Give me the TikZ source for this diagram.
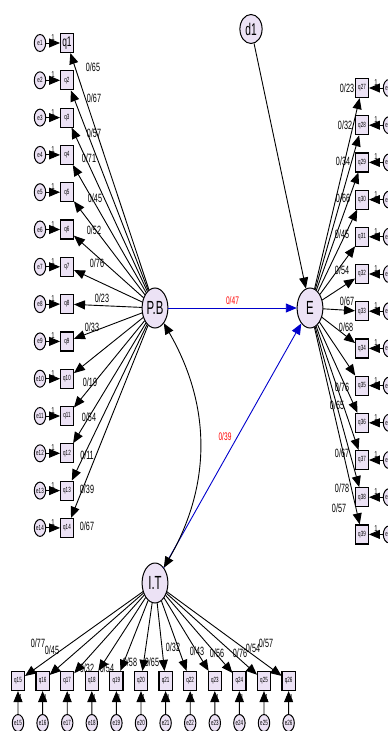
\documentclass[tikz,border=0pt]{standalone}
\usepackage{fontspec}
\setmainfont{Liberation Sans}
\definecolor{LatentFill}{RGB}{236,226,245}
\colorlet{StructPath}{blue!80!black}
\usetikzlibrary{arrows.meta, shapes.geometric}

\begin{document}
\begin{tikzpicture}[x=1pt, y=-1pt, line width=0.9pt,
    latent/.style={ellipse, draw, line width=1pt, fill=LatentFill, inner sep=0pt, xscale=0.6,
      minimum width=43pt, minimum height=40pt, font=\fontsize{19}{19}\selectfont},
    errvar/.style={ellipse, draw, line width=1pt, fill=LatentFill, inner sep=0pt, xscale=0.6,
      minimum width=19pt, minimum height=17pt, font=\fontsize{7.5}{7.5}\selectfont},
    item/.style={rectangle, draw, line width=1.2pt, fill=LatentFill, inner sep=0pt, xscale=0.6,
      minimum width=22pt, minimum height=19pt, font=\fontsize{7.5}{7.5}\selectfont},
    big1/.style={font=\fontsize{14}{14}\selectfont},
    load/.style={inner sep=0pt, xscale=0.6, font=\fontsize{12}{12}\selectfont},
    one/.style={inner sep=0pt, xscale=0.7, font=\fontsize{8.5}{8.5}\selectfont},
    headed/.style={-{Triangle[length=11pt,width=9pt]}},
  ]
\useasboundingbox (0,0) rectangle (388,731);

\node[latent] (PB) at (155,308) {P.B};
\node[latent] (E) at (310,308) {E};
\node[latent] (IT) at (155,583) {I.T};
\node[latent, minimum width=37pt, minimum height=29pt, font=\fontsize{17}{17}\selectfont] (d1) at (251,29) {d1};

\draw[headed] (d1) -- (E);
\draw[headed, StructPath] (PB) -- node[above=3pt, red, load, font=\fontsize{11}{11}\selectfont] (pbe) {0/47} (E);
\draw[headed, StructPath] (IT) -- (E);
\node[load, red, font=\fontsize{11}{11}\selectfont] (ite) at (225,437) {0/39};
\draw[{Triangle[length=11pt,width=9pt]}-{Triangle[length=11pt,width=9pt]}] (PB) to[bend left=30] (IT);

\foreach \i/\lx/\ly/\val in {1/93/67/65, 2/94/98/67, 3/94/133/57, 4/89/158/71, 5/95/198/45,
    6/94/230/52, 7/97/263/76, 8/102/298/23, 9/92/327/33, 10/90/382/19, 11/89/417/54,
    12/87/455/11, 13/87/489/39, 14/87/526/67} {
  \pgfmathsetmacro\yy{43+(\i-1)*37.3}
  \node[errvar] (e\i) at (40,\yy) {e\i};
  \node[item, big\i/.try] (q\i) at (67,\yy) {q\i};
  \draw[headed] (e\i) -- node[one, above=2pt] (o\i) {1} (q\i);
  \draw[headed] (PB) -- (q\i);
  \node[load] (w\i) at (\lx,\ly) {0/\val};
}

\foreach \i/\lx/\ly/\val in {27/347/88/23, 28/345/125/32, 29/343/161/34, 30/343/198/66,
    31/342/234/45, 32/342/270/54, 33/347/301/67, 34/346/327/68, 35/342/387/76,
    36/337/405/65, 37/342/453/67, 38/342/488/78, 39/339/508/57} {
  \pgfmathsetmacro\yy{88+(\i-27)*37.2}
  \node[item] (q\i) at (362,\yy) {q\i};
  \node[errvar] (e\i) at (389,\yy) {e\i};
  \draw[headed] (e\i) -- node[one, above=2pt] (o\i) {1} (q\i);
  \draw[headed] (E) -- (q\i);
  \node[load] (w\i) at (\lx,\ly) {0/\val};
}

\foreach \i/\lx/\ly/\val in {15/38/643/77, 16/52/650/45, 17/87/668/32, 18/107/668/54,
    19/130/662/58, 20/152/662/65, 21/173/647/32, 22/197/651/43, 23/217/653/56,
    24/240/653/76, 25/253/648/54, 26/266/643/57} {
  \pgfmathsetmacro\xx{18+(\i-15)*24.6}
  \node[item] (q\i) at (\xx,681) {q\i};
  \node[errvar] (e\i) at (\xx,723) {e\i};
  \draw[headed] (e\i) -- node[one, right=1pt, pos=0.72] (o\i) {1} (q\i);
  \draw[headed] (IT) -- (q\i);
  \node[load] (w\i) at (\lx,\ly) {0/\val};
}

\end{tikzpicture}
\end{document}
